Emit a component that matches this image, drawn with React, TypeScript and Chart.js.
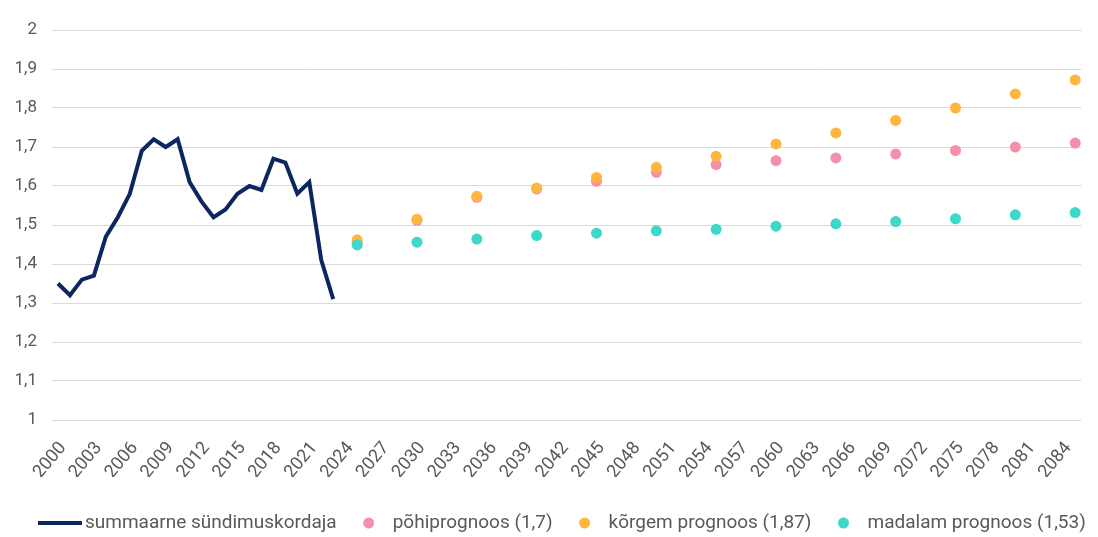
import React, { useEffect, useRef } from 'react';
import { Chart, registerables } from 'chart.js';

Chart.register(...registerables);

// Category axis: every year 2000..2085
const years: string[] = [];
for (let y = 2000; y <= 2085; y++) years.push(String(y));

// Observed total fertility rate 2000..2023
const actualYears = [2000, 2001, 2002, 2003, 2004, 2005, 2006, 2007, 2008, 2009, 2010, 2011, 2012, 2013, 2014, 2015, 2016, 2017, 2018, 2019, 2020, 2021, 2022, 2023];
const actualValues = [1.35, 1.32, 1.36, 1.37, 1.47, 1.52, 1.58, 1.69, 1.72, 1.70, 1.72, 1.61, 1.56, 1.52, 1.54, 1.58, 1.60, 1.59, 1.67, 1.66, 1.58, 1.61, 1.41, 1.31];

// Projections every 5 years
const projYears = [2025, 2030, 2035, 2040, 2045, 2050, 2055, 2060, 2065, 2070, 2075, 2080, 2085];
const baseValues = [1.456, 1.512, 1.571, 1.592, 1.612, 1.635, 1.655, 1.665, 1.672, 1.682, 1.691, 1.700, 1.710];
const highValues = [1.462, 1.515, 1.574, 1.595, 1.622, 1.648, 1.676, 1.708, 1.736, 1.768, 1.800, 1.836, 1.872];
const lowValues = [1.449, 1.456, 1.464, 1.473, 1.479, 1.485, 1.489, 1.497, 1.503, 1.509, 1.516, 1.526, 1.532];

const seriesLabels = [
  'summaarne sündimuskordaja',
  'põhiprognoos (1,7)',
  'kõrgem prognoos (1,87)',
  'madalam prognoos (1,53)',
];

const NAVY = '#0c2660';
const PINK = '#f590ab';
const ORANGE = '#ffb640';
const TEAL = '#3cd8c9';
const TEXT = '#595959';

function toSeries(xs: number[], vs: number[]): (number | null)[] {
  return years.map((y) => {
    const i = xs.indexOf(Number(y));
    return i >= 0 ? vs[i] : null;
  });
}

const legendPlugin = {
  id: 'customLegend',
  afterDraw(chart: any) {
    const ctx = chart.ctx as CanvasRenderingContext2D;
    ctx.save();
    ctx.font = '19px Roboto';
    ctx.textBaseline = 'middle';
    ctx.textAlign = 'left';
    const y = 523;
    let x = 38;
    chart.data.datasets.forEach((ds: any, i: number) => {
      if (i === 0) {
        ctx.strokeStyle = ds.borderColor;
        ctx.lineWidth = 4;
        ctx.beginPath();
        ctx.moveTo(x, y);
        ctx.lineTo(x + 44, y);
        ctx.stroke();
        x += 47;
      } else {
        x += 32;
        ctx.fillStyle = ds.backgroundColor;
        ctx.beginPath();
        ctx.arc(x, y, 5.5, 0, Math.PI * 2);
        ctx.fill();
        x += 24;
      }
      ctx.fillStyle = TEXT;
      ctx.fillText(ds.label, x, y);
      x += ctx.measureText(ds.label).width;
    });
    ctx.restore();
  },
};

export default function App() {
  const ref = useRef<HTMLCanvasElement | null>(null);

  useEffect(() => {
    document.body.style.margin = '0';
    if (!ref.current) return;
    const chart = new Chart(ref.current, {
      type: 'line',
      data: {
        labels: years,
        datasets: [
          {
            label: seriesLabels[0],
            data: toSeries(actualYears, actualValues),
            borderColor: NAVY,
            backgroundColor: NAVY,
            borderWidth: 4,
            pointRadius: 0,
            pointHoverRadius: 0,
            tension: 0,
            spanGaps: false,
            order: 0,
          },
          {
            label: seriesLabels[1],
            data: toSeries(projYears, baseValues),
            showLine: false,
            borderColor: PINK,
            backgroundColor: PINK,
            pointRadius: 5.5,
            pointBorderWidth: 0,
            order: 3,
          },
          {
            label: seriesLabels[2],
            data: toSeries(projYears, highValues),
            showLine: false,
            borderColor: ORANGE,
            backgroundColor: ORANGE,
            pointRadius: 5.5,
            pointBorderWidth: 0,
            order: 2,
          },
          {
            label: seriesLabels[3],
            data: toSeries(projYears, lowValues),
            showLine: false,
            borderColor: TEAL,
            backgroundColor: TEAL,
            pointRadius: 5.5,
            pointBorderWidth: 0,
            order: 1,
          },
        ],
      },
      options: {
        animation: false,
        responsive: true,
        maintainAspectRatio: false,
        layout: { padding: { top: 30, right: 14, bottom: 60, left: 0 } },
        plugins: {
          legend: { display: false },
          tooltip: { enabled: false },
        },
        scales: {
          x: {
            type: 'category',
            offset: true,
            grid: { display: false, drawTicks: false },
            border: { display: false },
            ticks: {
              autoSkip: false,
              minRotation: 50,
              maxRotation: 50,
              padding: 18,
              labelOffset: 5,
              color: TEXT,
              font: { family: 'Roboto', size: 18 },
              callback: (_v: any, idx: number) => (idx % 3 === 0 ? years[idx] : null),
            },
            afterFit: (scale: any) => {
              scale.height = 57;
            },
          },
          y: {
            min: 1,
            max: 2,
            grid: { color: '#d9d9d9', lineWidth: 1, drawTicks: false },
            border: { display: false },
            ticks: {
              stepSize: 0.1,
              padding: 15,
              color: TEXT,
              font: { family: 'Roboto', size: 17 },
              callback: (v: any) => String(Number(Number(v).toFixed(1))).replace('.', ','),
            },
            afterFit: (scale: any) => {
              scale.width = 52;
            },
          },
        },
      },
      plugins: [legendPlugin],
    });
    return () => chart.destroy();
  }, []);

  return (
    <div style={{ width: 1098, height: 537, position: 'relative' }}>
      <canvas ref={ref} />
    </div>
  );
}
